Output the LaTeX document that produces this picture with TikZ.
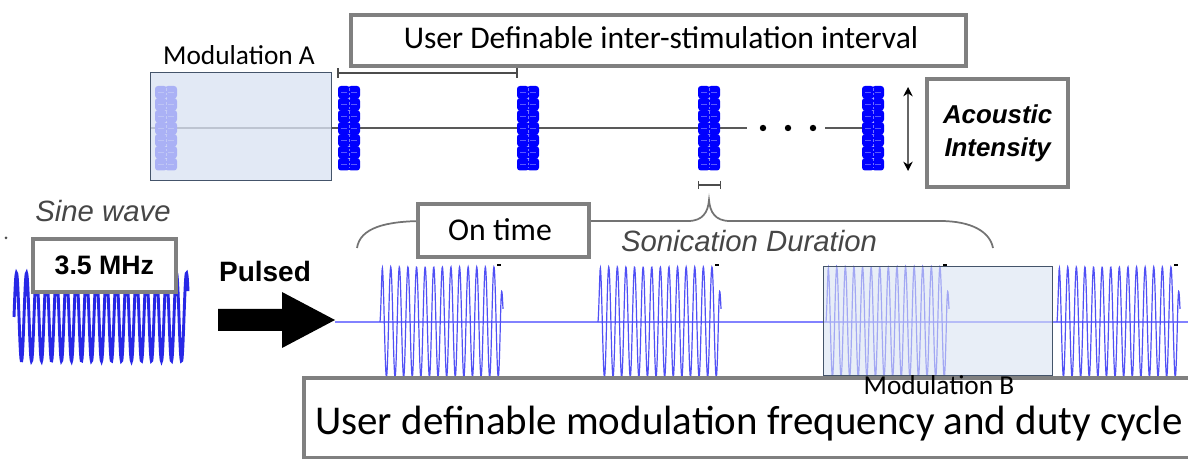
\documentclass[tikz,border=0pt]{standalone}
\usepackage{fontspec}
\newfontfamily\calibri{Carlito}
\newfontfamily\arialf{Liberation Sans}
\usetikzlibrary{arrows.meta}
\definecolor{boxgray}{RGB}{128,128,128}
\definecolor{ovfill}{RGB}{218,227,243}
\definecolor{ovdraw}{RGB}{68,84,106}
\definecolor{burstblue}{RGB}{0,0,255}
\definecolor{pulseblue}{RGB}{80,80,245}
\definecolor{baseblue}{RGB}{130,130,255}
\definecolor{sineblue}{RGB}{40,40,230}
\definecolor{txtgray}{RGB}{70,70,70}
\tikzset{
  graybox/.style={draw=boxgray, line width=3pt, fill=white},
  overlaybox/.style={draw=ovdraw, line width=0.8pt, fill=ovfill, fill opacity=0.78},
  txt/.style={inner sep=0pt, text=black},
  axisline/.style={draw=black!65, line width=1pt},
  bracketline/.style={draw=black!70, line width=1.4pt},
  bracegray/.style={draw=black!55, line width=1.3pt},
  pulseline/.style={draw=pulseblue, line width=0.9pt},
}
\begin{document}
\begin{tikzpicture}[x=0.75pt,y=-0.75pt]
\useasboundingbox (0,0) rectangle (1188,459);
\fill[white] (0,0) rectangle (1188,459);

% ---------- top row ----------
\draw[axisline] (150,128) -- (747,128);
\draw[axisline] (825,128) -- (862,128);
\foreach \dx in {763,788,813} \fill[black] (\dx,128) circle (3.2);

\foreach \bx/\nm in {155/tb1,338/tb2,517/tb3,698/tb4,862/tb5}{
  \node[inner sep=0pt, minimum width=16.5pt, minimum height=64pt, anchor=north west] (\nm) at (\bx,86) {};
  \foreach \c in {0,1}{
    \foreach \k in {0,...,6}{
      \fill[burstblue, rounded corners=2.2pt] (\bx+\c*10,86+\k*12) rectangle (\bx+\c*10+12,86+\k*12+12.5);
      \draw[white, opacity=0.35, line width=0.6pt] (\bx+\c*10+3,92+\k*12) -- (\bx+\c*10+9,92+\k*12);
    }
  }
  \draw[white, opacity=0.45, line width=0.5pt, dash pattern=on 2pt off 1.5pt] (\bx+11,88) -- (\bx+11,168);
}

\node[overlaybox, minimum width=135.75pt, minimum height=81pt, anchor=north west, inner sep=0pt] (modA) at (150,72) {};
\node[txt, font=\calibri\fontsize{20.5}{22}\selectfont, anchor=base] (modAlbl) at (239,65) {Modulation A};

\coordinate (intA) at (337,73);
\coordinate (intB) at (518,73);
\draw[bracketline, {Bar[width=7pt]}-{Bar[width=7pt]}] (intA) -- (intB);

\node[graybox, minimum width=461pt, minimum height=38pt, anchor=north west, inner sep=0pt] (topbox) at (349,13) {};
\node[txt, font=\calibri\fontsize{23.7}{26}\selectfont] (toplbl) at (661,38) {User Definable inter-stimulation interval};

\coordinate (ampTop) at (908,87);
\coordinate (ampBot) at (908,171);
\draw[draw=black!60, line width=1pt, {Stealth[length=7pt,width=7pt,color=black]}-{Stealth[length=7pt,width=7pt,color=black]}] (ampTop) -- (ampBot);

\node[graybox, minimum width=106pt, minimum height=81pt, anchor=north west, inner sep=0pt, align=center,
      font=\arialf\bfseries\itshape\fontsize{19.4}{25}\selectfont] (acou) at (925,77) {Acoustic\\Intensity};

\coordinate (onA) at (698,185);
\coordinate (onB) at (721,185);
\draw[bracketline, line width=1.1pt, {Bar[width=6pt]}-{Bar[width=6pt]}] (onA) -- (onB);

% ---------- curly brace ----------
\coordinate (brL) at (357,248);
\coordinate (brM) at (709,200);
\coordinate (brR) at (993,248);
\draw[bracegray] (brL) .. controls (360,228) and (385,221) .. (425,221) -- (688,221)
   .. controls (703,221) and (708,212) .. (brM)
   .. controls (710,212) and (715,221) .. (730,221) -- (940,221)
   .. controls (972,221) and (990,232) .. (brR);

% ---------- pulsed signal ----------
\draw[draw=baseblue, line width=1pt] (335,322) -- (1188,322);
\foreach \px/\nm in {380/pb1,598/pb2,826/pb3,1057/pb4}{
  \draw[pulseline] plot[domain=0:123, samples=460]
    ({\px+\x}, {322 - 55*min(1,0.25+\x/3)*min(1,0.25+(123-\x)/3)*sin(41.86*\x)});
  \coordinate (\nm) at (\px+119,265);
  \draw[black, line width=1.2pt] (\px+117,265) -- (\px+121,265);
}

\node[overlaybox, fill opacity=0.6, minimum width=172pt, minimum height=81.75pt, anchor=north west, inner sep=0pt] (modB) at (823,266) {};

\node[graybox, minimum width=667pt, minimum height=60pt, anchor=north west, inner sep=0pt] (botbox) at (302,376) {};
\node[txt, font=\calibri\fontsize{30.7}{34}\selectfont, anchor=base] (botlbl) at (749,434) {User definable modulation frequency and duty cycle};
\node[txt, font=\calibri\fontsize{20.5}{22}\selectfont, anchor=base] (modBlbl) at (939,394) {Modulation B};

\node[graybox, minimum width=128pt, minimum height=40pt, anchor=north west, inner sep=0pt] (ontime) at (416,202) {};
\node[txt, font=\calibri\fontsize{23.8}{26}\selectfont] (ontimelbl) at (500,230) {On time};

\node[txt, font=\arialf\itshape\fontsize{22}{24}\selectfont, text=txtgray, anchor=base] (sonic) at (749,252) {Sonication Duration};

% ---------- sine wave ----------
\draw[draw=sineblue, line width=2.2pt] plot[domain=0:174, samples=500]
   ({14+\x}, {317 - 44*sin(36*\x)});
\node[graybox, minimum width=107pt, minimum height=40pt, anchor=north west, inner sep=0pt,
      font=\arialf\bfseries\fontsize{20}{22}\selectfont] (mhz) at (31,237) {3.5 MHz};
\node[txt, font=\arialf\itshape\fontsize{22}{24}\selectfont, text=txtgray, anchor=base] (sine) at (103,222) {Sine wave};
\fill[black!70] (6,238) circle (1.5);

\node[txt, font=\arialf\bfseries\fontsize{21}{22}\selectfont, anchor=base] (pulsed) at (265,282) {Pulsed};

\coordinate (arrS) at (218,320);
\coordinate (arrT) at (335,320);
\fill[black] (218,309) -- (282,309) -- (282,292) -- (arrT) -- (282,348) -- (282,331) -- (218,331) -- cycle;

\end{tikzpicture}
\end{document}
